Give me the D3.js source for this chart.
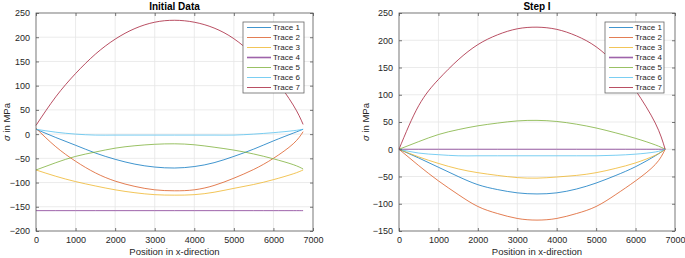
<!DOCTYPE html>
<html>
<head>
<meta charset="utf-8">
<script src="https://cdn.jsdelivr.net/npm/d3@7"></script>
<style>
  body { margin: 0; background: #fff; }
  svg { font-family: "Liberation Sans", Arial, sans-serif; }
  .tick text { font-size: 9px; fill: #262626; }
  .title { font-size: 10px; font-weight: bold; fill: #000; }
  .alabel { font-size: 9.5px; fill: #262626; }
  .legtext { font-size: 8px; fill: #262626; }
</style>
</head>
<body>
<div id="chart"></div>
<script>
// positions along x (shared by all traces)
var positions = [0, 500, 1000, 1500, 2000, 2500, 3000, 3500, 4000, 4500, 5000, 5500, 6000, 6500, 6750];

var traceNames = ["Trace 1", "Trace 2", "Trace 3", "Trace 4", "Trace 5", "Trace 6", "Trace 7"];
var traceColors = ["#0072BD", "#D95319", "#EDB120", "#7E2F8E", "#77AC30", "#4DBEEE", "#A2142F"];

// Initial Data
var init1 = [10, -7, -23, -39, -52, -62, -68, -70, -67, -59, -46, -31, -14, 2, 10];
var init2 = [12, -26, -56, -80, -97, -108, -115, -117, -115, -106, -91, -73, -50, -20, 5];
var init3 = [-74, -87, -98, -107, -115, -121, -125, -126, -125, -120, -112, -104, -94, -82, -74];
var init4 = [-158, -158, -158, -158, -158, -158, -158, -158, -158, -158, -158, -158, -158, -158, -158];
var init5 = [-74, -59, -46, -37, -29, -24, -21, -20, -22, -27, -33, -41, -51, -63, -72];
var init6 = [10, 4, 0, -2, -2, -2, -2, -2, -2, -2, -2, 0, 3, 7, 10];
var init7 = [18, 77, 125, 165, 196, 218, 231, 235, 231, 219, 197, 163, 118, 60, 20];

// Step I
var step1 = [0, -16, -33, -50, -65, -74, -80, -82, -80, -73, -62, -48, -32, -12, 0];
var step2 = [0, -30, -58, -83, -105, -118, -127, -130, -127, -118, -105, -83, -58, -28, 0];
var step3 = [0, -14, -26, -36, -43, -48, -52, -53, -51, -48, -43, -35, -25, -11, 0];
var step4 = [0, 0, 0, 0, 0, 0, 0, 0, 0, 0, 0, 0, 0, 0, 0];
var step5 = [0, 14, 27, 36, 43, 48, 52, 53, 51, 46, 39, 30, 20, 8, 0];
var step6 = [0, -7, -10, -12, -12, -12, -12, -12, -12, -12, -12, -11, -9, -5, 0];
var step7 = [0, 80, 128, 164, 192, 210, 221, 224, 220, 208, 188, 155, 108, 48, 0];

var xTicks = [0, 1000, 2000, 3000, 4000, 5000, 6000, 7000];
var yTicksInit = [-200, -150, -100, -50, 0, 50, 100, 150, 200, 250];
var yTicksStep = [-150, -100, -50, 0, 50, 100, 150, 200, 250];

var svg = d3.select("#chart").append("svg")
    .attr("width", 685)
    .attr("height", 258);

function drawPanel(opt) {
  var x = d3.scaleLinear().domain([0, 7000]).range([opt.left, opt.right]);
  var y = d3.scaleLinear().domain(opt.ydomain).range([opt.bottom, opt.top]);
  var g = svg.append("g");

  g.append("rect")
    .attr("x", opt.left).attr("y", opt.top)
    .attr("width", opt.right - opt.left).attr("height", opt.bottom - opt.top)
    .attr("fill", "#fff");

  // grid
  g.append("g").selectAll("line").data(opt.xticks.slice(1, -1)).enter().append("line")
    .attr("x1", d => x(d)).attr("x2", d => x(d))
    .attr("y1", opt.top).attr("y2", opt.bottom)
    .attr("stroke", "#e6e6e6").attr("stroke-width", 0.8);
  g.append("g").selectAll("line").data(opt.yticks.slice(1, -1)).enter().append("line")
    .attr("y1", d => y(d)).attr("y2", d => y(d))
    .attr("x1", opt.left).attr("x2", opt.right)
    .attr("stroke", "#e6e6e6").attr("stroke-width", 0.8);

  // lines
  var line = d3.line()
    .x((d, i) => x(positions[i]))
    .y(d => y(d))
    .curve(d3.curveNatural);

  g.append("g").selectAll("path").data(opt.series).enter().append("path")
    .attr("d", line)
    .attr("fill", "none")
    .attr("stroke", (d, i) => traceColors[i])
    .attr("stroke-opacity", 0.75)
    .attr("stroke-width", 1);

  // axes, ticks pointing inward, box on
  var tk = 3;
  var fmt = d3.format("d");
  g.append("g").attr("transform", "translate(0," + opt.bottom + ")")
    .call(d3.axisBottom(x).tickValues(opt.xticks).tickFormat(fmt).tickSizeInner(-tk).tickSizeOuter(0).tickPadding(6))
    .call(a => a.select(".domain").remove());
  g.append("g").attr("transform", "translate(0," + opt.top + ")")
    .call(d3.axisTop(x).tickValues(opt.xticks).tickSizeInner(-tk).tickSizeOuter(0).tickFormat(""))
    .call(a => a.select(".domain").remove());
  g.append("g").attr("transform", "translate(" + opt.left + ",0)")
    .call(d3.axisLeft(y).tickValues(opt.yticks).tickFormat(fmt).tickSizeInner(-tk).tickSizeOuter(0).tickPadding(6))
    .call(a => a.select(".domain").remove());
  g.append("g").attr("transform", "translate(" + opt.right + ",0)")
    .call(d3.axisRight(y).tickValues(opt.yticks).tickSizeInner(-tk).tickSizeOuter(0).tickFormat(""))
    .call(a => a.select(".domain").remove());
  g.selectAll(".tick line").attr("stroke", "#555").attr("stroke-width", 0.8);

  g.append("rect")
    .attr("x", opt.left).attr("y", opt.top)
    .attr("width", opt.right - opt.left).attr("height", opt.bottom - opt.top)
    .attr("fill", "none").attr("stroke", "#555").attr("stroke-width", 0.8);

  // title and labels
  var cx = (opt.left + opt.right) / 2;
  g.append("text").attr("class", "title")
    .attr("x", cx).attr("y", 10).attr("text-anchor", "middle")
    .text(opt.title);
  g.append("text").attr("class", "alabel")
    .attr("x", cx).attr("y", 255).attr("text-anchor", "middle")
    .text("Position in x-direction");
  var yl = g.append("text").attr("class", "alabel")
    .attr("transform", "translate(" + opt.ylabelX + "," + ((opt.top + opt.bottom) / 2) + ")rotate(-90)")
    .attr("text-anchor", "middle");
  yl.append("tspan").attr("font-style", "italic").text("σ");
  yl.append("tspan").text(" in MPa");

  // legend
  var lg = g.append("g").attr("transform", "translate(" + opt.legX + ",22)");
  lg.append("rect")
    .attr("width", opt.legW).attr("height", 71)
    .attr("fill", "#fff").attr("stroke", "#666").attr("stroke-width", 0.8);
  var items = lg.selectAll("g").data(traceNames).enter().append("g")
    .attr("transform", (d, i) => "translate(0," + (5.5 + i * 10) + ")");
  items.append("line")
    .attr("x1", 4).attr("x2", 28)
    .attr("stroke", (d, i) => traceColors[i])
    .attr("stroke-opacity", 0.75)
    .attr("stroke-width", (d, i) => i === 3 ? 1.6 : 1);
  items.append("text").attr("class", "legtext")
    .attr("x", 30).attr("dy", "0.35em")
    .text(d => d);
}

drawPanel({
  left: 36, right: 313, top: 13, bottom: 231,
  ydomain: [-200, 250], xticks: xTicks, yticks: yTicksInit,
  series: [init1, init2, init3, init4, init5, init6, init7],
  title: "Initial Data", ylabelX: 10, legX: 243, legW: 61
});

drawPanel({
  left: 399, right: 675, top: 13, bottom: 231,
  ydomain: [-150, 250], xticks: xTicks, yticks: yTicksStep,
  series: [step1, step2, step3, step4, step5, step6, step7],
  title: "Step I", ylabelX: 369, legX: 605, legW: 59
});
</script>
</body>
</html>
